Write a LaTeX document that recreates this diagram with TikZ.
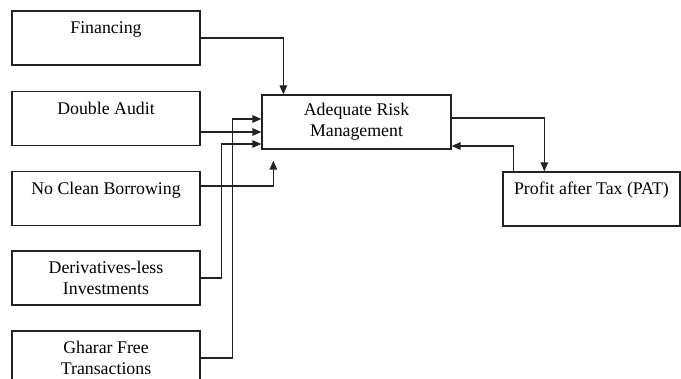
\documentclass[tikz,border=0pt]{standalone}
\usepackage{fontspec}
\setmainfont{Liberation Serif}
\usetikzlibrary{arrows.meta}
\definecolor{ink}{HTML}{222222}
\tikzset{
  box/.style={draw=ink, line width=1.3pt, inner sep=0pt, align=center,
    minimum width=188pt, minimum height=54pt,
    font=\fontsize{17.8}{21}\selectfont, text=black},
  conn/.style={draw=ink, line width=1.3pt},
  arr/.style={conn, -{Triangle[length=9pt,width=7.5pt]}}
}
\begin{document}
\begin{tikzpicture}[x=1pt,y=-1pt]
\useasboundingbox (0,0) rectangle (681,379);
\clip (0,0) rectangle (681,379);
\node[box] (fin) at (106,38) {Financing\\~};
\node[box] (da) at (106,118.5) {Double Audit\\~};
\node[box] (ncb) at (106,198.5) {No Clean Borrowing\\~};
\node[box] (der) at (106,278) {Derivatives-less\\Investments};
\node[box] (gh) at (106,358) {Gharar Free\\Transactions};
\node[box, minimum width=189pt] (arm) at (356.5,122) {Adequate Risk\\Management};
\node[box, minimum width=177pt] (pat) at (591.5,199) {Profit after Tax (PAT)\\~};
\coordinate (ncbtip) at ([xshift=12pt,yshift=-11pt]arm.south west);
\draw[arr] (fin.east) -| ([xshift=22pt]arm.north west);
\draw[arr] ([yshift=-13.5pt]da.east) -- ([yshift=-10pt]arm.west);
\draw[arr] ([yshift=12.5pt]ncb.east) -| (ncbtip);
\draw[arr] (der.east) -- ++(21,0) |- ([yshift=-22pt]arm.west);
\draw[arr] (gh.east) -- ++(32,0) |- ([yshift=3pt]arm.west);
\draw[arr] ([yshift=4pt]arm.east) -| ([xshift=42pt]pat.north west);
\draw[arr] ([xshift=11pt]pat.north west) |- ([yshift=-24pt]arm.east);
\end{tikzpicture}
\end{document}
